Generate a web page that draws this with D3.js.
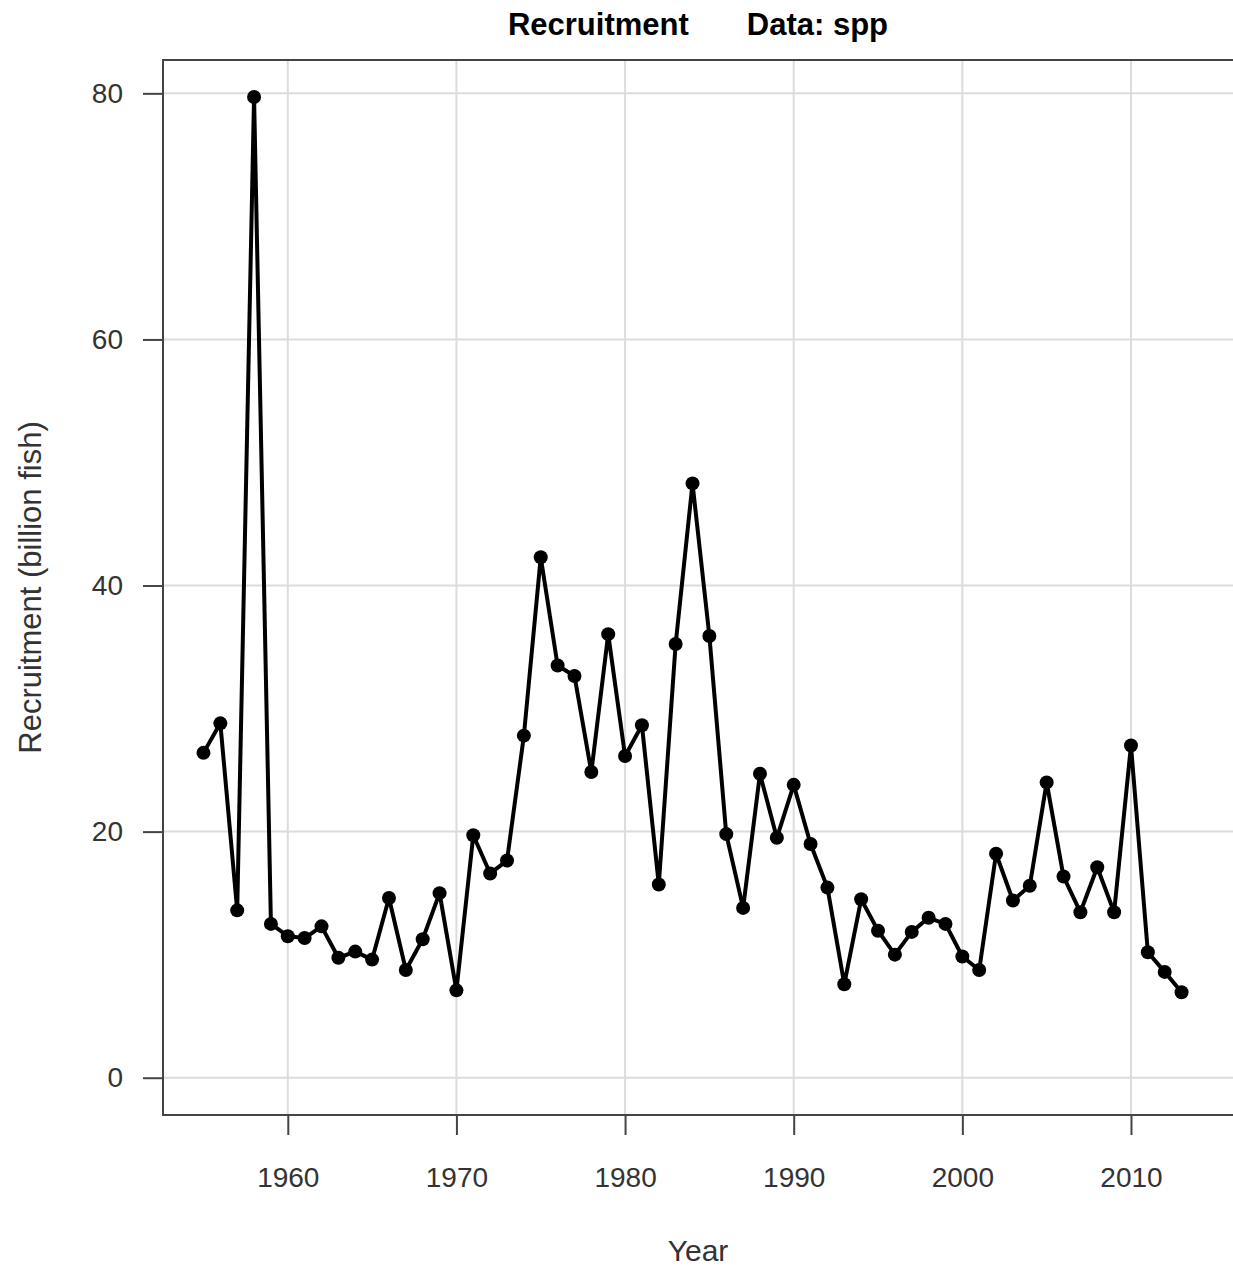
<!DOCTYPE html>
<html>
<head>
<meta charset="utf-8">
<script src="https://cdn.jsdelivr.net/npm/d3@7"></script>
<style>
  body { margin: 0; background: #fff; }
  text { font-family: "Liberation Sans", Arial, sans-serif; }
</style>
</head>
<body>
<svg id="chart" width="1233" height="1269"></svg>
<script>
// recruitment series
const years = d3.range(1955, 2014);
const recruitment = [
  26.4, 28.8, 13.6, 79.7, 12.5, 11.5, 11.35, 12.3, 9.75, 10.25,
  9.6, 14.6, 8.75, 11.25, 15.0, 7.1, 19.7, 16.6, 17.65, 27.8,
  42.3, 33.5, 32.65, 24.85, 36.05, 26.15, 28.65, 15.7, 35.25, 48.3,
  35.9, 19.8, 13.8, 24.7, 19.5, 23.8, 19.0, 15.45, 7.6, 14.5,
  11.95, 10.0, 11.85, 13.0, 12.5, 9.85, 8.75, 18.2, 14.4, 15.6,
  24.0, 16.35, 13.45, 17.1, 13.45, 27.0, 10.2, 8.6, 6.95
];
const xTicks = [1960, 1970, 1980, 1990, 2000, 2010];
const yTicks = [0, 20, 40, 60, 80];

const svg = d3.select("#chart");
const margin = {top: 60, right: 0, bottom: 154, left: 163};
const width = 1233, height = 1269;

const x = d3.scaleLinear()
  .domain([1952.6, 2016.05])
  .range([margin.left, width - margin.right]);
const y = d3.scaleLinear()
  .domain([-3.03, 82.71])
  .range([height - margin.bottom, margin.top]);

const data = years.map((yr, i) => ({year: yr, value: recruitment[i]}));

// grid
const grid = svg.append("g").attr("stroke", "#dcdcdc").attr("stroke-width", 2);
grid.selectAll(".gx").data(xTicks).join("line")
  .attr("x1", d => x(d)).attr("x2", d => x(d))
  .attr("y1", y.range()[0]).attr("y2", y.range()[1]);
grid.selectAll(".gy").data(yTicks).join("line")
  .attr("x1", x.range()[0]).attr("x2", x.range()[1] + 2)
  .attr("y1", d => y(d)).attr("y2", d => y(d));

// axes
const xAxis = svg.append("g")
  .attr("transform", `translate(0,${y.range()[0]})`)
  .call(d3.axisBottom(x).tickValues(xTicks).tickFormat(d3.format("d")).tickSize(20).tickPadding(32));
const yAxis = svg.append("g")
  .attr("transform", `translate(${x.range()[0]},0)`)
  .call(d3.axisLeft(y).tickValues(yTicks).tickSize(20).tickPadding(20));

[xAxis, yAxis].forEach(ax => {
  ax.select(".domain").remove();
  ax.selectAll(".tick line").attr("stroke", "#444").attr("stroke-width", 2);
  ax.selectAll(".tick text").attr("fill", "#333").style("font-size", "28px");
});

// frame (left, top, bottom; right edge falls off the canvas)
svg.append("path")
  .attr("fill", "none")
  .attr("stroke", "#444")
  .attr("stroke-width", 2)
  .attr("d", `M${x.range()[1] + 2},${y.range()[1]}H${x.range()[0]}V${y.range()[0]}H${x.range()[1] + 2}`);

// series
svg.append("path")
  .datum(data)
  .attr("fill", "none")
  .attr("stroke", "#000")
  .attr("stroke-width", 4)
  .attr("stroke-linejoin", "round")
  .attr("d", d3.line().x(d => x(d.year)).y(d => y(d.value)));

svg.append("g").selectAll("circle")
  .data(data)
  .join("circle")
  .attr("cx", d => x(d.year))
  .attr("cy", d => y(d.value))
  .attr("r", 7)
  .attr("fill", "#000");

// titles
const title = svg.append("text")
  .attr("x", (x.range()[0] + x.range()[1]) / 2)
  .attr("y", 35)
  .attr("text-anchor", "middle")
  .style("font-size", "31px")
  .style("font-weight", "bold")
  .attr("fill", "#000");
title.append("tspan").text("Recruitment");
title.append("tspan").attr("dx", 58).text("Data: spp");

svg.append("text")
  .attr("x", (x.range()[0] + x.range()[1]) / 2)
  .attr("y", 1261)
  .attr("text-anchor", "middle")
  .style("font-size", "30px")
  .attr("fill", "#333")
  .text("Year");

svg.append("text")
  .attr("transform", `translate(41,${(y.range()[0] + y.range()[1]) / 2}) rotate(-90)`)
  .attr("text-anchor", "middle")
  .style("font-size", "31px")
  .attr("fill", "#333")
  .text("Recruitment (billion fish)");
</script>
</body>
</html>
